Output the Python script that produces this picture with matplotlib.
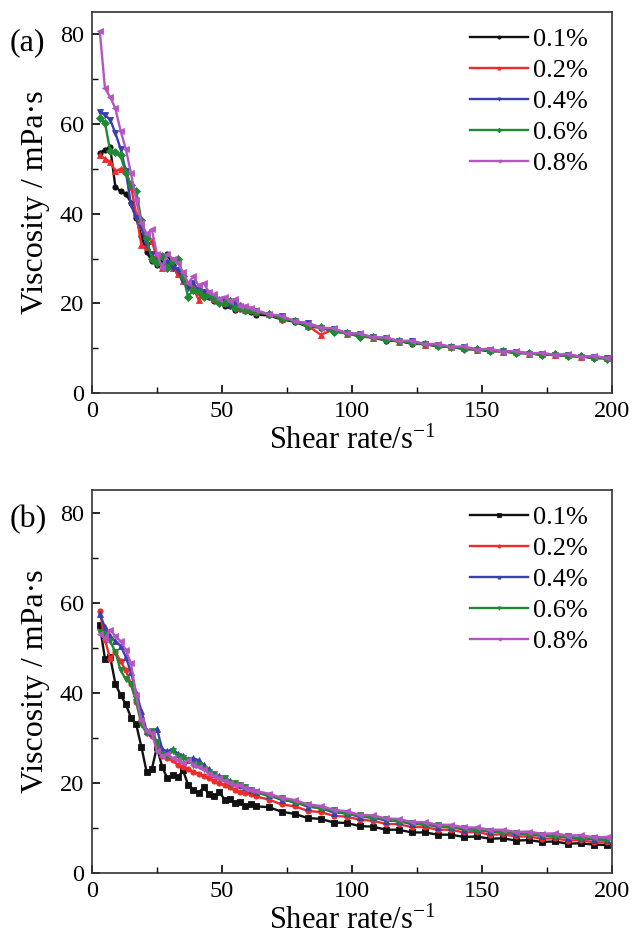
import matplotlib
matplotlib.use("Agg")
import matplotlib.pyplot as plt

plt.rcParams['font.family'] = ['Liberation Serif', 'DejaVu Serif']
plt.rcParams['mathtext.fontset'] = 'custom'
plt.rcParams['mathtext.rm'] = 'Liberation Serif'
plt.rcParams['mathtext.default'] = 'regular'

shear_rate = [3, 5, 7, 9, 11, 13, 15, 17, 19, 21, 23, 25, 27, 29, 31, 33, 35, 37, 39, 41,
              43, 45, 47, 49, 51, 53, 55, 57, 59, 61, 63,
              68, 73, 78, 83, 88, 93, 98, 103, 108, 113, 118, 123, 128, 133, 138, 143,
              148, 153, 158, 163, 168, 173, 178, 183, 188, 193, 198]

labels = ['0.1%', '0.2%', '0.4%', '0.6%', '0.8%']

# Panel (a)
a_01 = [53.5, 54.3, 54.8, 46, 45, 44.5, 42.5, 39, 35, 31.5, 29.5, 28.5, 29.5, 31, 28.5, 27, 25.5, 24, 23, 22.5,
        22, 21.5, 20.5, 20.5, 19.5, 19.5, 18.5, 18.8, 18.2, 18, 17.5,
        17.3, 16.4, 15.9, 14.8, 14.6, 13.7, 13.4, 12.6, 12.4, 11.7, 11.6, 11.0, 10.9, 10.4, 10.3, 9.8,
        9.7, 9.3, 9.3, 8.9, 8.9, 8.5, 8.6, 8.2, 8.2, 7.8, 7.8]
a_02 = [53, 52.3, 51.6, 49.5, 50, 49.8, 46, 40, 33, 32.5, 34, 30, 28, 29.5, 28, 26.5, 25, 24, 23.5, 20.8,
        22.5, 22, 21, 21, 20, 20.5, 19.5, 19, 18.5, 18.5, 18,
        17.7, 16.6, 16.2, 15.0, 13, 14.2, 13.2, 13.1, 12.2, 12.2, 11.4, 11.5, 10.8, 10.7, 10.2, 10.1,
        9.7, 9.6, 9.2, 9.2, 8.8, 8.8, 8.4, 8.4, 8.1, 8.0, 7.8]
a_04 = [62.8, 62, 61, 58, 54.5, 49.5, 42, 39, 37, 33, 31, 29.5, 28.5, 29, 28, 27.5, 25, 23.5, 24.5, 23,
        22.5, 21.5, 21.5, 20.5, 20.5, 19.5, 20, 19, 19, 18.5, 18.2,
        17.5, 17.1, 16.0, 15.6, 14.6, 14.3, 13.4, 13.2, 12.4, 12.3, 11.6, 11.5, 10.9, 10.8, 10.3, 10.2,
        9.7, 9.7, 9.3, 9.2, 8.8, 8.8, 8.5, 8.5, 8.1, 8.1, 7.8]
a_06 = [61.3, 60.3, 54, 53.7, 53, 49, 46.5, 45, 38.5, 34.5, 30, 29, 30.5, 28, 29.5, 30, 26, 21.5, 23, 22.5,
        21.5, 22, 21, 20, 20, 20.5, 19, 19.5, 18.5, 18.5, 18,
        17.6, 16.5, 16.1, 14.9, 14.7, 13.7, 13.4, 12.6, 12.5, 11.8, 11.7, 11.1, 11.0, 10.5, 10.3, 9.9,
        9.8, 9.4, 9.4, 8.9, 8.9, 8.5, 8.6, 8.2, 8.2, 7.8, 7.7]
a_08 = [80.7, 68, 66, 63.5, 58.5, 54.5, 49, 43, 38, 35.5, 36.5, 31, 28, 31, 30, 29, 27, 24.5, 26, 24,
        24.5, 22.5, 22, 21, 21.5, 20.5, 21, 19.5, 19.5, 19, 18.5,
        17.6, 17.2, 16.0, 15.5, 14.6, 14.4, 13.3, 13.3, 12.4, 12.4, 11.6, 11.7, 10.9, 11.0, 10.3, 10.4,
        9.7, 9.9, 9.2, 9.4, 8.8, 9.0, 8.5, 8.7, 8.1, 8.3, 7.8]

# Panel (b)
b_01 = [55, 47.5, 48, 42, 39.5, 37.5, 34.5, 33, 28, 22.5, 23, 28, 23.5, 21, 21.8, 21.2, 22.8, 19.5, 18.5, 17.8,
        19, 17.5, 17, 18, 16.3, 16.5, 15.5, 15.8, 14.8, 15.2, 14.8,
        14.6, 13.6, 13.1, 12.2, 12.0, 11.2, 11.1, 10.4, 10.3, 9.6, 9.6, 9.0, 9.0, 8.5, 8.5, 8.0,
        8.1, 7.6, 7.7, 7.2, 7.3, 6.9, 7.0, 6.5, 6.6, 6.3, 6.2]
b_02 = [58.2, 51.8, 47.5, 49, 47, 45, 42, 38, 34, 31, 30.5, 28.5, 26, 25.5, 25, 24, 23.5, 23, 22.5, 22,
        21.5, 21, 20.5, 20, 19.5, 19, 18.5, 18, 17.8, 17.5, 17,
        16.3, 15.2, 14.8, 13.8, 13.5, 12.7, 12.5, 11.8, 11.6, 10.9, 10.8, 10.2, 10.2, 9.6, 9.6, 9.0,
        9.1, 8.5, 8.6, 8.1, 8.1, 7.6, 7.7, 7.2, 7.3, 6.8, 6.8]
b_04 = [57.5, 54.5, 52.5, 51.5, 50.4, 48, 44.5, 40, 36, 31.5, 31, 32, 27.5, 27, 27.5, 26.5, 26, 25, 25.5, 25,
        24, 23, 22, 21.5, 21, 20.5, 20, 19.5, 19, 18.5, 18,
        17.3, 16.2, 15.8, 14.7, 14.4, 13.4, 13.3, 12.4, 12.4, 11.6, 11.6, 10.8, 10.9, 10.2, 10.3, 9.6,
        9.7, 9.1, 9.2, 8.6, 8.7, 8.2, 8.3, 7.8, 7.8, 7.4, 7.4]
b_06 = [53.5, 53, 51.5, 49, 45, 43, 42, 38, 33, 31, 31.5, 29, 26.5, 26, 27, 26, 25.5, 25, 24, 24,
        23, 22.5, 22, 21, 21, 20, 20, 19.5, 19, 18.5, 18,
        17.0, 16.6, 15.5, 15.1, 14.2, 13.9, 13.0, 12.8, 12.1, 12.0, 11.3, 11.2, 10.6, 10.6, 10.0, 10.0,
        9.4, 9.4, 8.9, 8.9, 8.5, 8.5, 8.0, 8.1, 7.6, 7.7, 7.3]
b_08 = [53, 52, 54, 52.5, 51.5, 49.5, 46.5, 39.5, 34, 31.5, 31, 27, 26, 26.5, 25.5, 25, 24.5, 25, 24, 23.5,
        23, 22, 21.5, 21, 20.5, 20, 19.5, 19.5, 18.8, 18.5, 18.2,
        17.6, 16.7, 16.2, 15.2, 14.9, 14.0, 13.7, 12.9, 12.8, 12.1, 12.0, 11.3, 11.3, 10.7, 10.7, 10.1,
        10.1, 9.6, 9.6, 9.1, 9.2, 8.7, 8.8, 8.3, 8.4, 7.9, 8.0]

colors = ['#111111', '#ee2a2a', '#3a3fb0', '#1f8a32', '#b455c2']
markers_a = ['o', '^', 'v', 'D', '<']
markers_b = ['s', 'o', '^', 'v', '<']

fig = plt.figure(figsize=(6.33, 9.40), dpi=100)
ax_a = fig.add_axes([0.1453, 0.5819, 0.8215, 0.4053])
ax_b = fig.add_axes([0.1453, 0.0713, 0.8215, 0.4074])

def draw(ax, series, markers, legend_anchor):
    for y, lab, c, m in zip(series, labels, colors, markers):
        ax.plot(shear_rate, y, color=c, lw=1.7, marker=m, ms=3.8, mew=0.6,
                mfc=c, mec=c, label=lab)
    ax.set_xlim(0, 200)
    ax.set_ylim(0, 85)
    ax.set_xticks([0, 50, 100, 150, 200])
    ax.set_xticks([25, 75, 125, 175], minor=True)
    ax.set_yticks([0, 20, 40, 60, 80])
    ax.set_yticks([10, 30, 50, 70], minor=True)
    ax.tick_params(which='both', direction='in', top=False, right=False,
                   labelsize=17.5, pad=6)
    ax.tick_params(which='major', length=6, width=1.2)
    ax.tick_params(which='minor', length=4, width=1.0)
    for s in ax.spines.values():
        s.set_linewidth(1.2)
        s.set_color('#333333')
    ax.set_xlabel('Shear rate/s$^{-1}$', fontsize=22, labelpad=3)
    ax.set_ylabel('Viscosity / mPa·s', fontsize=23, labelpad=7)
    ax.legend(loc='upper right', bbox_to_anchor=legend_anchor, frameon=False,
              fontsize=19, handlelength=2.2, handletextpad=0.2,
              labelspacing=0.28, borderaxespad=0.2, markerscale=0.6)

draw(ax_a, [a_01, a_02, a_04, a_06, a_08], markers_a, (0.985, 1.0))
draw(ax_b, [b_01, b_02, b_04, b_06, b_08], markers_b, (0.985, 1.0))

fig.text(0.015, 0.955, '(a)', fontsize=23, ha='left', va='center')
fig.text(0.015, 0.447, '(b)', fontsize=23, ha='left', va='center')

fig.savefig('out.png', dpi=100)
